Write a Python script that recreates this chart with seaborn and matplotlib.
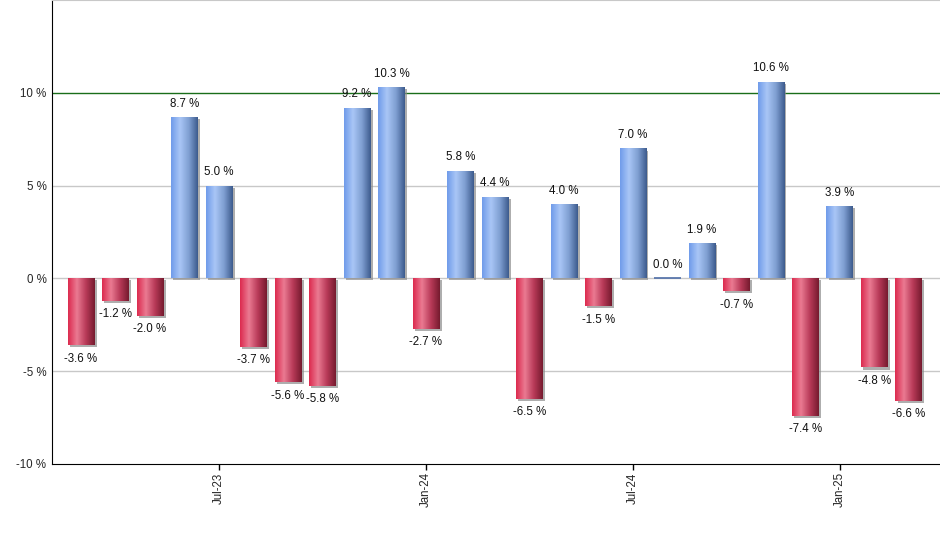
import matplotlib.pyplot as plt
import matplotlib.patheffects as pe
import numpy as np
import pandas as pd
import seaborn as sns
from matplotlib.colors import LinearSegmentedColormap

months = pd.date_range("2023-03-01", "2025-03-01", freq="MS")
returns = [-3.6, -1.2, -2.0, 8.7, 5.0, -3.7, -5.6, -5.8, 9.2, 10.3, -2.7, 5.8, 4.4,
           -6.5, 4.0, -1.5, 7.0, 0.0, 1.9, -0.7, 10.6, -7.4, 3.9, -4.8, -6.6]
tick_months = ["Jul-23", "Jan-24", "Jul-24", "Jan-25"]
y_ticks = [-10, -5, 0, 5, 10]

df = pd.DataFrame({"month": months.strftime("%b-%y"), "ret": returns})
df["sign"] = np.where(df["ret"] >= 0, "up", "down")

blue_cmap = LinearSegmentedColormap.from_list(
    "blue", ["#6f9bea", "#a9c6f6", "#7f9fd2", "#3c5a8c"], N=256)
red_cmap = LinearSegmentedColormap.from_list(
    "red", ["#dc2a4e", "#ea7a92", "#b83a58", "#751a2e"], N=256)

sns.set_style("white")
plt.rcParams["font.family"] = ["Liberation Sans", "DejaVu Sans"]

fig = plt.figure(figsize=(9.4, 5.5), dpi=100)
ax = fig.add_axes([52 / 940, 86 / 550, 888 / 940, 464 / 550])

sns.barplot(data=df, x="month", y="ret", hue="sign", palette={"up": "#6f9bea", "down": "#dc2a4e"},
            width=0.78, legend=False, ax=ax, order=list(df["month"]), linewidth=0)

grad = np.linspace(0, 1, 256).reshape(1, -1)
for patch in ax.patches:
    h = patch.get_height()
    if np.isnan(h) or (patch.get_width() == 0):
        continue
    x0 = patch.get_x()
    w = patch.get_width()
    y0 = patch.get_y()
    cmap = blue_cmap if h >= 0 else red_cmap
    patch.set_path_effects([pe.SimplePatchShadow(offset=(1.5, -1.5), shadow_rgbFace="#8c8c8c", alpha=0.7),
                            pe.Normal()])
    if h == 0:
        # flat month: thin outline so it still shows at zero
        patch.set_edgecolor("#4f6fa8")
        patch.set_linewidth(1.2)
        continue
    im = ax.imshow(grad, cmap=cmap, aspect="auto", extent=(x0, x0 + w, y0, y0 + h),
                   zorder=patch.get_zorder() + 0.1, interpolation="bilinear")
    im.set_clip_path(patch)

for i, v in enumerate(returns):
    if v >= 0:
        ax.text(i, v + 0.4, f"{v:.1f} %", ha="center", va="bottom", fontsize=8.3, color="#111111")
    else:
        ax.text(i, v - 0.4, f"{v:.1f} %", ha="center", va="top", fontsize=8.3, color="#111111")

ax.set_xlim(-0.84, 24.9)
ax.set_ylim(-10, 15)
ax.set_yticks(y_ticks)
ax.set_yticklabels([f"{t} %" for t in y_ticks], fontsize=8.3)
for t in y_ticks:
    if t == 10:
        ax.axhline(t, color="#1a6e1a", lw=1, zorder=0)
    elif t != -10:
        ax.axhline(t, color="#c8c8c8", lw=1, zorder=0)

pos = [list(df["month"]).index(m) for m in tick_months]
ax.set_xticks(pos)
ax.set_xticklabels(tick_months, rotation=90, fontsize=8.3)
ax.tick_params(axis="x", length=4, width=1, color="black", direction="out", bottom=True, pad=2)
ax.tick_params(axis="y", length=0, pad=4)
ax.set_xlabel("")
ax.set_ylabel("")

ax.spines["left"].set_color("black")
ax.spines["bottom"].set_color("black")
ax.spines["top"].set_color("#c8c8c8")
ax.spines["right"].set_visible(False)

fig.savefig("out.png", dpi=100)
